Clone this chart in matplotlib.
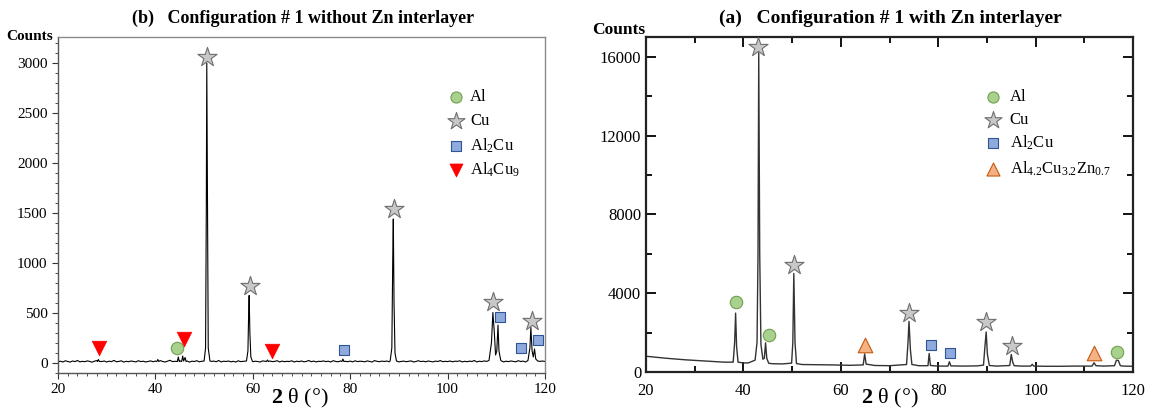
import numpy as np
import matplotlib
matplotlib.use("Agg")
import matplotlib.pyplot as plt
from matplotlib.ticker import MultipleLocator

plt.rcParams['font.family'] = ['Liberation Serif', 'DejaVu Serif']
plt.rcParams['mathtext.fontset'] = 'custom'
plt.rcParams['mathtext.rm'] = 'Liberation Serif'
plt.rcParams['mathtext.bf'] = 'Liberation Serif:bold'
plt.rcParams['mathtext.it'] = 'Liberation Serif:italic'

# ---------------- data: panel (b) without Zn ----------------
b_base_y = [12,18,10,22,15,9,20,14,25,11,17,13,21,16,8,19,24,12,15,20,
            10,18,14,26,12,16,22,9,17,13,20,15,11,23,14,18,10,16,21,13,
            19,12,24,15,10,18,27,14,17,11,22,16,13,20,9,18,15,23,12,17,
            14,21,10,16,19,13,25,11,18,15,20,12,17,9,22,14,16,19,11,24,
            13,18,15,10,21,17,12,20,14,16,23,11,19,13,17,15,22,10,18,14,
            20,12,16,25,13,19,11,17,15,21,14,18,10,23,16,12,20,15,17,13,
            19,11,22,14,18,16,12,21,15,10,24,17,13,19,15,20,12,18,14,22,
            11,16,19,13,17,21,10,15,23,14,18,12,20,16,11,19,15,24,13,17,
            14,20,12,18,16,22,11,17,13,19,15,25,10,18,14,21,16,12,19,15,
            17,13,22,11,18,14,20,16,12,23,15,19,10,17,21,13,18,14,16,20,
            15]
b_peaks = [
    [(28.1, 15), (28.3, 35), (28.5, 15)],
    [(40.3, 15), (40.5, 35), (40.7, 15)],
    [(44.5, 15), (44.7, 60), (44.9, 15)],
    [(45.4, 15), (45.6, 70), (45.8, 20), (46.1, 55), (46.3, 15)],
    [(50.0, 20), (50.3, 150), (50.45, 1500), (50.55, 3000), (50.7, 1500), (50.85, 150), (51.2, 20)],
    [(58.7, 20), (59.0, 120), (59.15, 500), (59.25, 675), (59.4, 300), (59.6, 60), (59.9, 20)],
    [(62.8, 15), (63.0, 30), (63.2, 15)],
    [(78.3, 15), (78.5, 40), (78.7, 15)],
    [(88.2, 20), (88.55, 150), (88.75, 1100), (88.85, 1440), (89.0, 600), (89.2, 100), (89.5, 20)],
    [(108.5, 25), (109.0, 200), (109.3, 505), (109.6, 300), (109.85, 80), (110.1, 120),
     (110.35, 380), (110.55, 120), (110.9, 30)],
    [(116.5, 25), (116.9, 150), (117.1, 355), (117.35, 120), (117.6, 60), (117.85, 140),
     (118.1, 40), (118.5, 20)],
]
b_Al = ([44.4], [150])
b_Cu = ([50.6, 59.5, 89.0, 109.3, 117.3], [3060, 766, 1545, 613, 423])
b_Al2Cu = ([78.8, 110.7, 115.0, 118.6], [133, 456, 150, 230])
b_Al4Cu9 = ([28.4, 45.8, 64.0], [150, 240, 123])

# ---------------- data: panel (a) with Zn ----------------
a_x = [20, 22, 24, 26, 28, 30, 32, 34, 36, 37.9, 38.2, 38.4, 38.6, 38.9, 40, 41,
       42.4, 42.8, 43.0, 43.15, 43.35, 43.6, 44.0, 44.3, 44.55, 44.8, 45.2, 46, 48,
       49.9, 50.15, 50.35, 50.6, 50.9, 52, 55, 58, 60, 62, 64.6, 64.9, 65.2, 67, 70,
       73.5, 73.8, 74.0, 74.3, 74.6, 76, 77.9, 78.15, 78.4, 80, 82.0, 82.3, 82.6,
       85, 88, 89.3, 89.6, 89.85, 90.1, 90.5, 92, 94.7, 95.0, 95.3, 95.6, 97,
       99.0, 99.3, 99.6, 102, 105, 108, 111.6, 112.0, 112.4, 114, 116.2, 116.6,
       117.0, 117.4, 118, 120]
a_y = [800, 750, 700, 660, 620, 590, 560, 530, 500, 500, 1500, 2990, 1300, 500, 460, 460,
       600, 1500, 6000, 16200, 6000, 1400, 650, 700, 1480, 700, 440, 420, 410,
       450, 1500, 5000, 1500, 430, 380, 370, 360, 350, 340, 360, 920, 400, 330, 320,
       380, 1500, 2570, 1100, 380, 320, 320, 940, 330, 300, 300, 520, 310,
       300, 310, 350, 1300, 2030, 900, 330, 300, 330, 890, 500, 320, 300,
       300, 390, 300, 290, 290, 300, 300, 470, 320, 300, 320, 600,
       580, 320, 300, 290]
a_Al = ([38.4, 45.2, 116.8], [3530, 1865, 1010])
a_Cu = ([43.1, 50.4, 74.0, 89.8, 95.1], [16470, 5430, 2990, 2540, 1310])
a_Al2Cu = ([78.5, 82.4], [1360, 940])
a_AlCuZn = ([65.0, 112.0], [1345, 940])

labels_b = ['Al', 'Cu', r'Al$_\mathregular{2}$Cu', r'Al$_\mathregular{4}$Cu$_\mathregular{9}$']
labels_a = ['Al', 'Cu', r'Al$_\mathregular{2}$Cu',
            r'Al$_\mathregular{4.2}$Cu$_\mathregular{3.2}$Zn$_\mathregular{0.7}$']

# ---------------- styles ----------------
st_Al = dict(marker='o', s=80, facecolor='#a9d18e', edgecolor='#70a050', linewidths=0.8)
st_Cu = dict(marker='*', s=210, facecolor='#c8c8c8', edgecolor='#6f6f6f', linewidths=0.8)
st_Al2Cu = dict(marker='s', s=60, facecolor='#8faadc', edgecolor='#2f5597', linewidths=0.8)
st_Al4Cu9 = dict(marker='v', s=110, facecolor='#ff0000', edgecolor='#ff0000', linewidths=0.5)
st_AlCuZn = dict(marker='^', s=110, facecolor='#f4b183', edgecolor='#c55a11', linewidths=0.8)

W, H = 1152, 417
fig = plt.figure(figsize=(W / 100, H / 100), dpi=100)
axb = fig.add_axes([58 / W, 1 - 373 / H, 487 / W, 336 / H])
axa = fig.add_axes([646 / W, 1 - 372 / H, 487 / W, 335 / H])

# ---- build curve (b) ----
bx = list(np.linspace(20, 120, len(b_base_y)))
by = list(b_base_y)
pts = []
for x, y in zip(bx, by):
    if not any(p[0][0] <= x <= p[-1][0] for p in b_peaks):
        pts.append((x, y))
for p in b_peaks:
    pts.extend(p)
pts.sort()
axb.plot([p[0] for p in pts], [p[1] for p in pts], color='black', lw=0.8, zorder=2)

for (xs, ys), st in zip([b_Al, b_Cu, b_Al2Cu, b_Al4Cu9], [st_Al, st_Cu, st_Al2Cu, st_Al4Cu9]):
    axb.scatter(xs, ys, zorder=3, **st)

axb.set_xlim(20, 120)
axb.set_ylim(-100, 3260)
axb.xaxis.set_major_locator(MultipleLocator(20))
axb.xaxis.set_minor_locator(MultipleLocator(2))
axb.yaxis.set_major_locator(MultipleLocator(500))
axb.yaxis.set_minor_locator(MultipleLocator(100))
axb.tick_params(which='both', direction='out', labelsize=11, colors='#333333', labelcolor='black')
axb.tick_params(which='major', length=4, width=0.8)
axb.tick_params(which='minor', length=2, width=0.6)
for s in ['top', 'right']:
    axb.spines[s].set_color('#8a8a8a')
for s in ['left', 'bottom']:
    axb.spines[s].set_color('#555555')
for s in axb.spines.values():
    s.set_linewidth(1.0)

# ---- curve (a) ----
axa.plot(a_x, a_y, color='#333333', lw=1.0, zorder=2)
for (xs, ys), st in zip([a_Al, a_Cu, a_Al2Cu, a_AlCuZn], [st_Al, st_Cu, st_Al2Cu, st_AlCuZn]):
    axa.scatter(xs, ys, zorder=3, **st)
axa.set_xlim(20, 120)
axa.set_ylim(0, 17000)
axa.xaxis.set_major_locator(MultipleLocator(20))
axa.xaxis.set_minor_locator(MultipleLocator(10))
axa.yaxis.set_major_locator(MultipleLocator(4000))
axa.yaxis.set_minor_locator(MultipleLocator(2000))
axa.tick_params(which='both', direction='in', top=True, right=True, labelsize=12)
axa.tick_params(which='major', length=7, width=1.3)
axa.tick_params(which='minor', length=4, width=1.3)
axa.tick_params(axis='x', pad=8)
for s in axa.spines.values():
    s.set_linewidth(1.6)
    s.set_color('#222222')

# ---- legends (manual) ----
def draw_legend(ax, styles, labels, mx, tx, ys):
    for st, lab, y in zip(styles, labels, ys):
        st2 = dict(st)
        st2['s'] = st['s'] * 0.8
        ax.scatter([mx], [y], transform=ax.transAxes, clip_on=False, zorder=4, **st2)
        ax.text(tx, y, lab, transform=ax.transAxes, fontsize=12, va='center', ha='left')

draw_legend(axb, [st_Al, st_Cu, st_Al2Cu, st_Al4Cu9], labels_b, 0.817, 0.846,
            [0.821, 0.750, 0.676, 0.604])
draw_legend(axa, [st_Al, st_Cu, st_Al2Cu, st_AlCuZn], labels_a, 0.7125, 0.747,
            [0.821, 0.752, 0.684, 0.606])

# ---- titles, labels ----
fig.text(303 / W, 1 - 18 / H, '(b)   Configuration # 1 without Zn interlayer',
         ha='center', va='center', fontsize=13, fontweight='bold')
fig.text(890 / W, 1 - 18 / H, '(a)   Configuration # 1 with Zn interlayer',
         ha='center', va='center', fontsize=14, fontweight='bold')
fig.text(30 / W, 1 - 37 / H, 'Counts', ha='center', va='center', fontsize=11, fontweight='bold')
fig.text(619 / W, 1 - 30 / H, 'Counts', ha='center', va='center', fontsize=12.5, fontweight='bold')
fig.text(300 / W, 1 - 398 / H, r'$\mathbf{2}$ θ (°)', ha='center', va='center', fontsize=16)
fig.text(890 / W, 1 - 398 / H, r'$\mathbf{2}$ θ (°)', ha='center', va='center', fontsize=16)

fig.savefig('out.png', dpi=100)
